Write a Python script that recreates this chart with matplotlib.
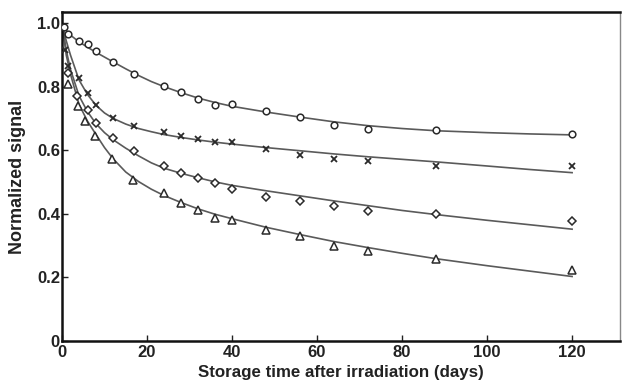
import matplotlib
matplotlib.use("Agg")
import matplotlib.pyplot as plt
from matplotlib.ticker import FuncFormatter

plt.rcParams['font.family'] = ['Liberation Sans', 'DejaVu Sans']

# measured signal, one list per sample type
days_circle = [0.5, 1.5, 4, 6, 8, 12, 17, 24, 28, 32, 36, 40, 48, 56, 64, 72, 88, 120]
sig_circle = [0.99, 0.967, 0.945, 0.934, 0.914, 0.880, 0.840, 0.803, 0.783, 0.761,
              0.742, 0.746, 0.725, 0.705, 0.679, 0.669, 0.665, 0.651]

days_cross = [0.7, 1.5, 4, 6, 8, 12, 17, 24, 28, 32, 36, 40, 48, 56, 64, 72, 88, 120]
sig_cross = [0.917, 0.867, 0.827, 0.781, 0.743, 0.702, 0.678, 0.657, 0.646, 0.635,
             0.627, 0.628, 0.604, 0.585, 0.573, 0.567, 0.551, 0.552]

days_diamond = [1.3, 3.6, 6, 8, 12, 17, 24, 28, 32, 36, 40, 48, 56, 64, 72, 88, 120]
sig_diamond = [0.843, 0.772, 0.728, 0.685, 0.638, 0.597, 0.551, 0.530, 0.513, 0.499,
               0.480, 0.453, 0.442, 0.426, 0.408, 0.399, 0.379]

days_tri = [1.3, 3.7, 5.4, 7.8, 11.7, 16.7, 24, 28, 32, 36, 40, 48, 56, 64, 72, 88, 120]
sig_tri = [0.808, 0.741, 0.693, 0.645, 0.572, 0.507, 0.467, 0.436, 0.413, 0.387,
           0.381, 0.350, 0.331, 0.299, 0.284, 0.257, 0.224]

# fitted decay curves
fit_days = [0, 1, 2, 4, 6, 8, 10, 12, 15, 18, 21, 24, 28, 32, 36, 40, 48, 56, 64,
            72, 80, 88, 100, 110, 120]
fit_circle = [1.0, 0.978, 0.963, 0.942, 0.925, 0.909, 0.894, 0.879, 0.857, 0.836,
              0.817, 0.801, 0.782, 0.765, 0.751, 0.739, 0.721, 0.705, 0.690, 0.678,
              0.669, 0.662, 0.656, 0.652, 0.649]
fit_cross = [1.0, 0.945, 0.900, 0.822, 0.776, 0.742, 0.718, 0.701, 0.683, 0.669,
             0.659, 0.650, 0.641, 0.633, 0.626, 0.620, 0.609, 0.599, 0.589, 0.580,
             0.572, 0.564, 0.551, 0.540, 0.530]
fit_diamond = [1.0, 0.915, 0.855, 0.772, 0.722, 0.684, 0.656, 0.634, 0.607, 0.583,
               0.561, 0.544, 0.528, 0.514, 0.501, 0.490, 0.473, 0.457, 0.441, 0.426,
               0.411, 0.398, 0.380, 0.366, 0.352]
fit_tri = [1.0, 0.900, 0.840, 0.745, 0.692, 0.650, 0.609, 0.574, 0.532, 0.502,
           0.478, 0.458, 0.436, 0.416, 0.399, 0.385, 0.358, 0.335, 0.313, 0.294,
           0.276, 0.259, 0.237, 0.220, 0.203]

x_ticks = [0, 20, 40, 60, 80, 100, 120]
y_ticks = [0, 0.2, 0.4, 0.6, 0.8, 1.0]

fig = plt.figure(figsize=(6.22, 3.87), dpi=100)
ax = fig.add_axes([0.0997, 0.119, 0.8973, 0.850])

line_kw = dict(color='#5a5a5a', lw=1.2, zorder=2)
for fy in (fit_circle, fit_cross, fit_diamond, fit_tri):
    ax.plot(fit_days, fy, **line_kw)

mk = dict(ls='none', mfc='white', mec='#2a2a2a', mew=1.1, zorder=3)
ax.plot(days_circle, sig_circle, marker='o', ms=4.8, **mk)
ax.plot(days_cross, sig_cross, marker='x', ms=4.4, color='#2a2a2a', ls='none', mew=1.3, zorder=3)
ax.plot(days_diamond, sig_diamond, marker='D', ms=4.2, **mk)
ax.plot(days_tri, sig_tri, marker='^', ms=5.4, **mk)

ax.set_xlim(0, 131.3)
ax.set_ylim(0, 1.036)
ax.set_xticks(x_ticks)
ax.set_yticks(y_ticks)
ax.yaxis.set_major_formatter(FuncFormatter(lambda v, p: '0' if v == 0 else f'{v:.1f}'))
ax.tick_params(direction='in', length=4, width=1.0, labelsize=12, colors='#222222')
ax.tick_params(axis='x', pad=3)
ax.tick_params(axis='y', pad=1.5)
for lbl in ax.get_xticklabels() + ax.get_yticklabels():
    lbl.set_fontweight('bold')

for side in ('left', 'bottom', 'top'):
    ax.spines[side].set_linewidth(1.8)
    ax.spines[side].set_color('#111111')
ax.spines['right'].set_linewidth(1.0)
ax.spines['right'].set_color('#888888')

ax.set_xlabel('Storage time after irradiation (days)', fontsize=12.2, fontweight='bold',
              color='#222222')
ax.set_ylabel('Normalized signal', fontsize=13, fontweight='bold', color='#222222')
ax.xaxis.set_label_coords(0.5, -0.072)
ax.yaxis.set_label_coords(-0.064, 0.5)

fig.savefig('out.png', dpi=100)
